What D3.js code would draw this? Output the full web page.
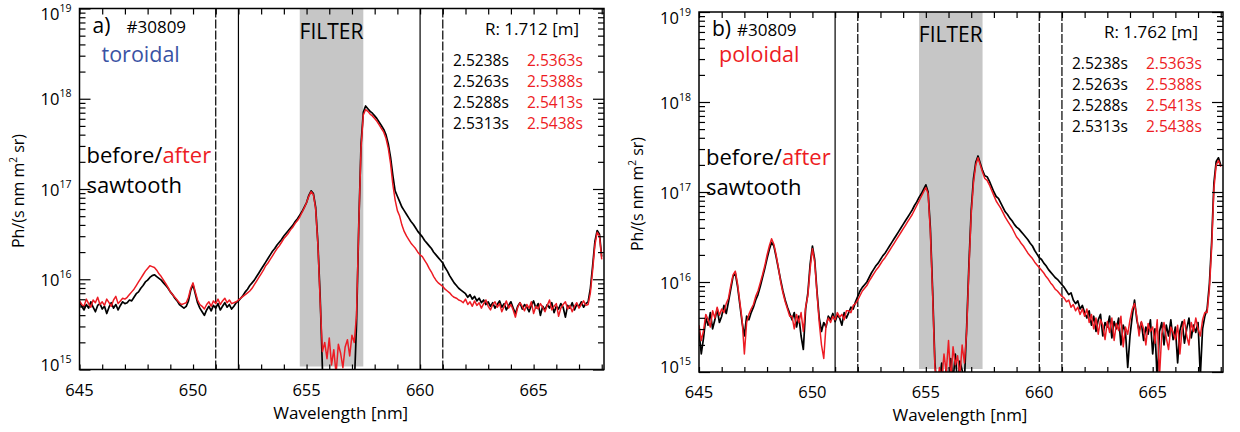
<!DOCTYPE html>
<html><head><meta charset="utf-8">
<script src="https://cdn.jsdelivr.net/npm/d3@7"></script>
<style>
html,body{margin:0;padding:0;background:#fff;}
svg{display:block;font-family:"Open Sans",sans-serif;}
</style></head>
<body><svg id="c" width="1240" height="432"></svg>
<script>
// ---------- data ----------
// wavelength grid [nm]: 645.0 .. 668.0, 0.1 nm sampling
const gridStart = 645.0, gridStep = 0.1, gridN = 231;
const xTicksMajor = [645, 650, 655, 660, 665];
const yTickExponents = [15, 16, 17, 18, 19];
const filterBand = [654.7, 657.5];
const timesBefore = ["2.5238s", "2.5263s", "2.5288s", "2.5313s"];
const timesAfter  = ["2.5363s", "2.5388s", "2.5413s", "2.5438s"];

// log10 of Ph/(s nm m^2 sr)
const toroidalBefore = [
15.74,15.70,15.66,15.72,15.68,15.75,15.69,15.64,15.71,15.73,15.67,15.70,15.62,15.69,15.74,15.68,15.72,15.66,15.71,15.75,15.73,
15.74,15.77,15.76,15.80,15.84,15.86,15.90,15.93,15.97,15.99,16.02,16.04,16.05,
16.03,16.01,15.99,15.96,15.93,15.90,15.86,15.83,15.79,15.76,15.72,15.70,15.68,
15.70,15.76,15.88,15.94,15.84,15.74,15.68,
15.64,15.60,15.66,15.70,15.65,15.71,15.68,15.73,15.66,15.70,15.74,15.69,15.72,15.67,15.70,15.74,15.76,15.79,15.82,15.86,15.89,
15.93,15.96,15.99,16.03,16.07,16.11,16.15,16.19,16.23,16.27,16.31,16.34,16.38,16.41,16.44,16.48,16.51,16.54,16.57,16.60,16.64,16.67,16.71,16.75,16.80,16.85,16.93,16.98,
16.95,16.80,16.40,15.80,15.00,
14.8,14.8,14.8,14.8,14.8,14.8,14.8,14.8,14.8,14.8,14.8,14.8,14.8,14.8,
15.5,16.6,17.5,17.85,17.92,
17.89,17.86,17.84,17.81,17.78,17.74,17.70,17.66,17.60,17.50,17.35,17.15,16.98,16.92,
16.86,16.80,16.76,16.72,16.68,16.64,16.61,16.57,16.53,16.50,16.47,16.43,16.40,16.37,16.34,16.30,16.27,16.24,16.21,16.18,16.13,16.09,16.04,16.00,15.96,
15.93,15.90,15.88,15.86,15.84,15.80,15.83,15.78,15.81,15.76,15.79,15.74,15.77,15.72,15.75,15.70,15.74,15.68,15.72,15.76,15.69,15.73,15.66,15.71,15.75,15.68,15.62,15.70,15.74,15.67,15.72,15.69,15.64,15.71,15.76,15.68,15.73,15.60,15.70,15.66,15.72,15.68,15.74,15.63,15.70,15.67,15.73,15.69,15.58,15.71,15.68,15.74,15.66,15.72,15.70,15.75,15.69,15.73,
15.75,15.90,16.15,16.42,16.54,16.50,16.25
];
const toroidalAfter = [
15.76,15.72,15.70,15.78,15.73,15.69,15.77,15.74,15.80,15.72,15.75,15.71,15.78,15.74,15.70,15.77,15.81,15.73,15.76,15.79,15.78,
15.80,15.83,15.86,15.89,15.93,15.97,16.01,16.05,16.09,16.12,16.15,16.14,16.13,
16.10,16.06,16.03,15.99,15.95,15.91,15.86,15.83,15.80,15.77,15.74,15.72,15.73,
15.74,15.80,15.90,15.96,15.86,15.77,15.72,
15.70,15.67,15.72,15.75,15.70,15.76,15.73,15.78,15.72,15.76,15.79,15.74,15.77,15.73,15.74,15.75,15.77,15.79,15.81,15.83,15.85,
15.87,15.90,15.94,15.98,16.02,16.06,16.10,16.15,16.18,16.22,16.26,16.30,16.34,16.37,16.41,16.45,16.48,16.51,16.55,16.58,16.62,16.65,16.69,16.74,16.79,16.85,16.92,16.97,
16.94,16.78,16.38,15.75,15.20,
15.30,15.12,15.35,15.05,15.22,14.95,15.28,15.18,15.02,15.25,15.33,15.15,15.38,15.30,
15.6,16.6,17.45,17.82,17.88,
17.86,17.83,17.81,17.78,17.75,17.71,17.67,17.63,17.56,17.45,17.28,17.05,16.88,16.76,
16.70,16.60,16.53,16.48,16.44,16.40,16.37,16.34,16.30,16.27,16.25,16.21,16.17,16.12,16.08,16.03,15.99,15.96,15.94,15.92,15.89,15.87,15.85,15.82,15.80,
15.79,15.77,15.76,15.74,15.78,15.72,15.75,15.70,15.76,15.71,15.74,15.68,15.73,15.77,15.70,15.66,15.72,15.75,15.69,15.73,15.64,15.70,15.76,15.68,15.72,15.66,15.58,15.69,15.74,15.70,15.65,15.72,15.68,15.75,15.62,15.70,15.67,15.73,15.69,15.64,15.71,15.77,15.66,15.70,15.73,15.59,15.68,15.72,15.75,15.67,15.71,15.64,15.70,15.74,15.68,15.72,15.76,15.71,
15.72,15.85,16.10,16.38,16.52,16.48,16.22
];
const poloidalBefore = [
15.45,15.20,15.38,15.60,15.52,15.66,15.48,15.58,15.70,15.55,15.62,15.74,15.65,
15.78,15.92,16.06,16.10,15.95,15.75,15.55,
15.40,15.62,15.58,15.66,15.72,
15.80,15.86,15.95,16.05,16.15,16.26,16.36,16.44,
16.40,16.28,16.15,16.02,15.90,15.80,15.72,15.65,
15.58,15.66,15.50,15.62,15.40,15.25,15.70,
15.88,16.20,16.40,16.25,15.90,15.60,
15.45,15.55,15.50,15.62,15.58,15.65,15.56,15.63,15.60,15.52,15.66,15.60,
15.66,15.72,15.70,15.78,15.84,15.90,15.94,15.97,16.00,16.05,
16.10,16.14,16.18,16.21,16.25,16.29,16.32,16.36,16.40,16.44,16.48,16.52,16.56,16.60,16.64,16.68,16.72,16.76,16.80,16.85,16.89,16.94,16.98,17.03,17.08,
17.00,16.60,15.90,15.10,
14.8,14.9,15.10,14.85,15.05,14.8,15.15,14.9,15.20,14.85,15.12,15.02,14.9,
15.50,16.20,16.80,17.15,17.33,17.40,
17.32,17.24,17.18,17.17,17.12,17.06,17.00,
16.95,16.93,16.88,16.83,16.78,16.75,16.71,16.68,16.64,16.61,16.59,16.56,16.53,16.50,16.47,16.43,16.40,16.35,16.31,16.27,16.25,16.21,16.18,16.14,16.11,16.08,16.05,16.03,16.00,15.97,
15.94,15.90,15.86,15.88,15.80,15.76,15.79,15.70,15.74,
15.66,15.60,15.68,15.52,15.62,15.45,15.58,15.64,15.40,15.55,
15.50,15.62,15.38,15.56,15.48,15.60,15.30,15.52,15.45,15.05,
15.40,15.62,15.80,15.58,15.46,15.55,15.35,15.50,15.42,15.58,
15.20,15.48,14.90,15.45,15.55,15.30,15.52,15.40,15.58,15.36,
15.50,15.10,15.46,15.56,15.32,15.48,15.60,15.38,15.52,15.44,
15.55,14.95,15.48,15.62,
15.70,15.98,16.45,17.10,17.34,17.38,17.30
];
const poloidalAfter = [
15.52,15.35,15.46,15.64,15.58,15.50,15.68,15.60,15.72,15.63,15.70,15.66,15.76,
15.82,15.96,16.08,16.12,15.98,15.78,15.58,
15.20,15.55,15.64,15.70,15.75,
15.84,15.90,15.99,16.08,16.18,16.30,16.40,16.48,
16.42,16.30,16.16,16.00,15.88,15.78,15.70,15.62,
15.62,15.48,15.64,15.55,15.66,15.45,15.72,
15.85,16.15,16.37,16.22,15.88,15.55,
15.30,15.15,15.52,15.60,15.55,15.62,15.58,15.66,15.61,15.64,15.58,15.68,
15.68,15.66,15.74,15.76,15.80,15.85,15.90,15.93,15.96,16.01,
16.05,16.09,16.13,16.16,16.20,16.24,16.27,16.31,16.35,16.39,16.43,16.47,16.51,16.55,16.59,16.63,16.67,16.71,16.75,16.80,16.85,16.90,16.95,17.00,17.05,
16.98,16.55,15.85,15.05,
14.85,15.05,14.9,15.20,15.0,15.35,14.9,15.28,15.08,15.18,14.95,15.30,15.1,
15.45,16.15,16.75,17.10,17.30,17.38,
17.30,17.22,17.15,17.13,17.08,17.02,16.96,
16.90,16.86,16.82,16.77,16.72,16.68,16.64,16.60,16.55,16.50,16.47,16.43,16.40,16.36,16.32,16.29,16.26,16.22,16.19,16.16,16.13,16.10,16.06,16.03,15.99,15.96,15.92,15.90,15.87,15.84,
15.82,15.78,15.80,15.72,15.75,15.68,15.72,15.64,15.70,
15.62,15.70,15.55,15.64,15.48,15.60,15.42,15.58,15.52,15.36,
15.56,15.44,15.60,15.35,15.54,15.46,15.62,15.28,15.50,15.42,
15.58,15.70,15.76,15.62,15.40,15.56,15.48,15.30,15.54,15.45,
15.50,15.32,15.58,14.95,15.42,15.55,15.38,15.25,15.50,15.44,
15.36,15.52,15.20,15.48,15.58,15.40,15.30,15.55,15.45,15.60,
15.48,15.40,15.58,15.66,
15.66,15.92,16.38,17.04,17.30,17.35,17.28
];

// ---------- drawing ----------
const svg = d3.select("#c");
const RED = "#ed1c24", BLUE = "#3a53a4";
const wl = d3.range(gridN).map(i => +(gridStart + i * gridStep).toFixed(2));

const panels = [
  { id:"a", x0:79.5, x1:604, y0:8.5, y1:369.5, label:"a)", shot:"#30809", dir:"toroidal", dirColor:BLUE,
    R:"R: 1.712 [m]", before:toroidalBefore, after:toroidalAfter,
    vlines:[[651,true],[652,false],[660,false],[661,true]], dy:0 },
  { id:"b", x0:699, x1:1223, y0:12, y1:372, label:"b)", shot:"#30809", dir:"poloidal", dirColor:RED,
    R:"R: 1.762 [m]", before:poloidalBefore, after:poloidalAfter,
    vlines:[[651,false],[652,true],[660,true],[661,true]], dy:2.5 }
];

panels.forEach(p => {
  const g = svg.append("g");
  const x = d3.scaleLinear().domain([645, 668.1]).range([p.x0, p.x1]);
  const y = d3.scaleLog().domain([1e15, 1e19]).range([p.y1, p.y0]);

  g.append("clipPath").attr("id", "clip" + p.id)
    .append("rect").attr("x", p.x0).attr("y", p.y0).attr("width", p.x1 - p.x0).attr("height", p.y1 - p.y0);

  // filter band
  g.append("rect").attr("x", x(filterBand[0])).attr("y", p.y0)
    .attr("width", x(filterBand[1]) - x(filterBand[0])).attr("height", p.y1 - p.y0 - 3)
    .attr("fill", "#c6c6c6");

  // vertical marker lines
  p.vlines.forEach(([v, dashed]) => {
    g.append("line").attr("x1", x(v)).attr("x2", x(v)).attr("y1", p.y0).attr("y2", p.y1)
      .attr("stroke", "#000").attr("stroke-width", 1.2)
      .attr("stroke-dasharray", dashed ? "9,2" : null);
  });

  // spectra
  const line = d3.line().x((d, i) => x(wl[i])).y(d => y(Math.pow(10, d)));
  const lg = g.append("g").attr("clip-path", `url(#clip${p.id})`);
  lg.append("path").datum(p.before).attr("d", line).attr("fill", "none")
    .attr("stroke", "#000").attr("stroke-width", 1.7).attr("stroke-linejoin", "round");
  lg.append("path").datum(p.after).attr("d", line).attr("fill", "none")
    .attr("stroke", RED).attr("stroke-width", 1.5).attr("stroke-linejoin", "round");

  // axes
  const minorX = d3.range(645, 669, 1).filter(v => !xTicksMajor.includes(v));
  const yMinor = [];
  yTickExponents.slice(0, -1).forEach(e => { for (let k = 2; k <= 9; k++) yMinor.push(k * Math.pow(10, e)); });
  const yMajor = yTickExponents.map(e => Math.pow(10, e));

  const ax = (gen, tr) => g.append("g").attr("transform", tr).call(gen)
    .call(s => s.select(".domain").remove())
    .call(s => s.selectAll("line").attr("stroke", "#000").attr("stroke-width", 1.2));

  ax(d3.axisBottom(x).tickValues(xTicksMajor.concat(minorX)).tickSizeInner(-5).tickSizeOuter(0).tickFormat(""), `translate(0,${p.y1})`);
  ax(d3.axisTop(x).tickValues(xTicksMajor.concat(minorX)).tickSizeInner(-6).tickSizeOuter(0).tickFormat(""), `translate(0,${p.y0})`);
  ax(d3.axisLeft(y).tickValues(yMajor).tickSizeInner(-11).tickSizeOuter(0).tickFormat(""), `translate(${p.x0},0)`);
  ax(d3.axisLeft(y).tickValues(yMinor).tickSizeInner(-6).tickSizeOuter(0).tickFormat(""), `translate(${p.x0},0)`);
  ax(d3.axisRight(y).tickValues(yMajor).tickSizeInner(-11).tickSizeOuter(0).tickFormat(""), `translate(${p.x1},0)`);
  ax(d3.axisRight(y).tickValues(yMinor).tickSizeInner(-6).tickSizeOuter(0).tickFormat(""), `translate(${p.x1},0)`);

  // x tick labels
  xTicksMajor.forEach(v => {
    g.append("text").attr("x", x(v)).attr("y", p.y1 + 26).attr("text-anchor", "middle")
      .attr("font-size", 16.5).text(v);
  });
  // y tick labels 10^n (top label pushed down, bottom label lifted, as in the figure)
  yTickExponents.forEach((e, i) => {
    const off = i === 0 ? 1 : (i === yTickExponents.length - 1 ? 11.5 : 6.5);
    const t = g.append("text").attr("x", p.x0 - 8).attr("y", y(Math.pow(10, e)) + off)
      .attr("text-anchor", "end").attr("font-size", 16.5);
    t.append("tspan").text("10");
    t.append("tspan").attr("font-size", 10.5).attr("dy", -8).text(e);
  });

  // frame
  g.append("rect").attr("x", p.x0).attr("y", p.y0).attr("width", p.x1 - p.x0).attr("height", p.y1 - p.y0)
    .attr("fill", "none").attr("stroke", "#000").attr("stroke-width", 1.5);

  // axis titles
  g.append("text").attr("x", (p.x0 + p.x1) / 2 - 1).attr("y", p.y1 + 49).attr("text-anchor", "middle")
    .attr("font-size", 17).text("Wavelength [nm]");
  const yl = g.append("text").attr("transform", `translate(${p.x0 - 56},${(p.y0 + p.y1) / 2 + 2}) rotate(-90)`)
    .attr("text-anchor", "middle").attr("font-size", 16);
  yl.append("tspan").text("Ph/(s nm m");
  yl.append("tspan").attr("font-size", 10).attr("dy", -7).text("2");
  yl.append("tspan").attr("dy", 7).text(" sr)");

  // annotations
  const L = p.x0;
  g.append("text").attr("x", L + 13).attr("y", 33 + p.dy).attr("font-size", 21).text(p.label);
  g.append("text").attr("x", L + (p.id === "a" ? 47 : 38)).attr("y", 33 + p.dy).attr("font-size", 17).text(p.shot);
  g.append("text").attr("x", L + (p.id === "a" ? 22 : 20)).attr("y", 62).attr("font-size", 21.5)
    .attr("fill", p.dirColor).text(p.dir);
  g.append("text").attr("x", x(656.1)).attr("y", 39 + p.dy).attr("text-anchor", "middle").attr("font-size", 21).text("FILTER");
  g.append("text").attr("x", p.x1 - 25).attr("y", 35 + p.dy).attr("text-anchor", "end").attr("font-size", 17).text(p.R);
  const rowsY = [66, 87, 108, 129];
  timesBefore.forEach((t, i) => {
    g.append("text").attr("x", p.x1 - 151).attr("y", rowsY[i] + p.dy).attr("font-size", 15.5).text(t);
    g.append("text").attr("x", p.x1 - 77).attr("y", rowsY[i] + p.dy).attr("font-size", 15.5).attr("fill", RED).text(timesAfter[i]);
  });
  const ba = g.append("text").attr("x", L + 7).attr("y", 163 + p.dy * 0.8).attr("font-size", 22);
  ba.append("tspan").text("before/");
  ba.append("tspan").attr("fill", RED).text("after");
  g.append("text").attr("x", L + 7).attr("y", 193 + p.dy * 0.8).attr("font-size", 22).text("sawtooth");
});
</script>
</body></html>
